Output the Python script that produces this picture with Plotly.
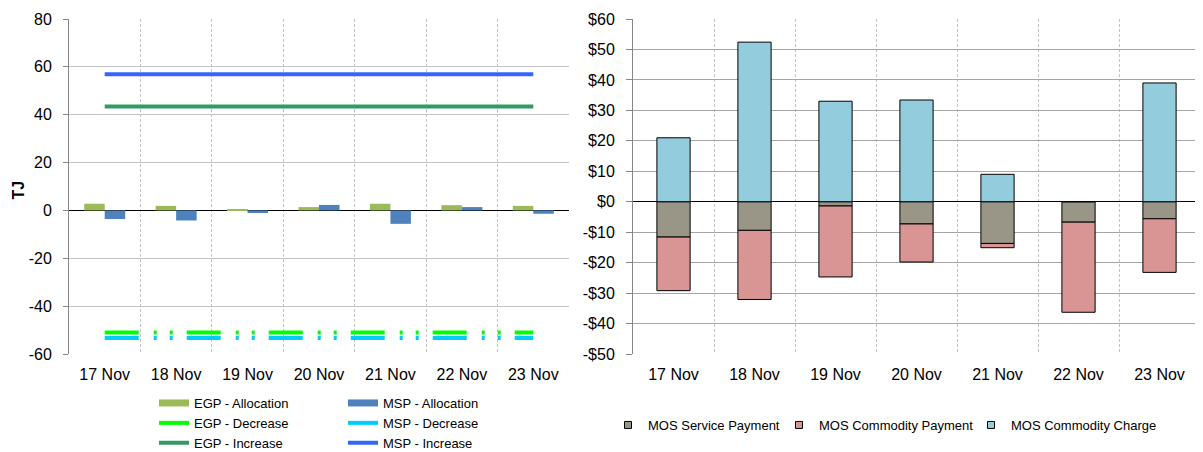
import plotly.graph_objects as go

# The page body has an 8px default margin, so pixel positions are offset by 8.
WIN_W, WIN_H = 1203, 452
OFF = 8
W, H = WIN_W - OFF, WIN_H - OFF
FONT = "Liberation Sans, Arial, sans-serif"


def px_x(x):
    return (x - OFF) / W


def px_y(y):
    return 1 - (y - OFF) / H


# ---------------- data ----------------
dates = ["17 Nov", "18 Nov", "19 Nov", "20 Nov", "21 Nov", "22 Nov", "23 Nov"]

egp_allocation = [2.8, 1.9, 0.6, 1.4, 2.8, 2.2, 1.9]
msp_allocation = [-3.6, -4.2, -1.1, 2.3, -5.6, 1.4, -1.4]
egp_decrease = [-51.0, -51.0, -51.0, -51.0, -51.0, -51.0, -51.0]
msp_decrease = [-53.3, -53.3, -53.3, -53.3, -53.3, -53.3, -53.3]
egp_increase = [43.4, 43.4, 43.4, 43.4, 43.4, 43.4, 43.4]
msp_increase = [56.9, 56.9, 56.9, 56.9, 56.9, 56.9, 56.9]

mos_service_payment = [-11.6, -9.4, -1.4, -7.3, -13.7, -6.7, -5.6]
mos_commodity_payment = [-17.6, -22.7, -23.3, -12.5, -1.4, -29.6, -17.6]
mos_commodity_charge = [21.0, 52.4, 33.0, 33.4, 9.0, 0.0, 39.0]

tj_ticks = [-60, -40, -20, 0, 20, 40, 60, 80]
tj_labels = ["-60", "-40", "-20", "0", "20", "40", "60", "80"]
usd_ticks = [-50, -40, -30, -20, -10, 0, 10, 20, 30, 40, 50, 60]
usd_labels = ["-$50", "-$40", "-$30", "-$20", "-$10", "$0",
              "$10", "$20", "$30", "$40", "$50", "$60"]

# ---------------- styles ----------------
C_EGP_ALLOC = "#9BBB59"
C_MSP_ALLOC = "#4F81BD"
C_EGP_DEC = "#00FF00"
C_MSP_DEC = "#00CCFF"
C_EGP_INC = "#339966"
C_MSP_INC = "#3366FF"
C_SERVICE = "#9A9687"
C_PAYMENT = "#D99594"
C_CHARGE = "#93CDDD"
DASH = "34px,15px,3px,13px,3px,14px"

fig = go.Figure()

# left chart bars (grouped, drawn explicitly side by side)
fig.add_trace(go.Bar(x=dates, y=egp_allocation, base=0, width=0.287, offset=-0.287,
                     marker=dict(color=C_EGP_ALLOC, line=dict(width=0)),
                     showlegend=False, xaxis="x", yaxis="y", hoverinfo="y"))
fig.add_trace(go.Bar(x=dates, y=msp_allocation, base=0, width=0.287, offset=0,
                     marker=dict(color=C_MSP_ALLOC, line=dict(width=0)),
                     showlegend=False, xaxis="x", yaxis="y", hoverinfo="y"))

# left legend column 1
fig.add_trace(go.Scatter(x=[None], y=[None], mode="lines", name="EGP - Allocation",
                         line=dict(color=C_EGP_ALLOC, width=7), legend="legend",
                         xaxis="x", yaxis="y"))
fig.add_trace(go.Scatter(x=dates, y=egp_decrease, mode="lines", name="EGP - Decrease",
                         line=dict(color=C_EGP_DEC, width=4, dash=DASH), legend="legend",
                         xaxis="x", yaxis="y"))
fig.add_trace(go.Scatter(x=dates, y=egp_increase, mode="lines", name="EGP - Increase",
                         line=dict(color=C_EGP_INC, width=4), legend="legend",
                         xaxis="x", yaxis="y"))
# left legend column 2
fig.add_trace(go.Scatter(x=[None], y=[None], mode="lines", name="MSP - Allocation",
                         line=dict(color=C_MSP_ALLOC, width=7), legend="legend2",
                         xaxis="x", yaxis="y"))
fig.add_trace(go.Scatter(x=dates, y=msp_decrease, mode="lines", name="MSP - Decrease",
                         line=dict(color=C_MSP_DEC, width=4, dash=DASH), legend="legend2",
                         xaxis="x", yaxis="y"))
fig.add_trace(go.Scatter(x=dates, y=msp_increase, mode="lines", name="MSP - Increase",
                         line=dict(color=C_MSP_INC, width=4), legend="legend2",
                         xaxis="x", yaxis="y"))

# right chart stacked bars
for vals, col, nm, lg in [(mos_service_payment, C_SERVICE, "MOS Service Payment", "legend3"),
                          (mos_commodity_payment, C_PAYMENT, "MOS Commodity Payment", "legend4"),
                          (mos_commodity_charge, C_CHARGE, "MOS Commodity Charge", "legend5")]:
    fig.add_trace(go.Bar(x=dates, y=vals, name=nm, showlegend=False,
                         marker=dict(color=col, line=dict(color="#000000", width=1)),
                         xaxis="x2", yaxis="y2", hoverinfo="y"))
    fig.add_trace(go.Scatter(x=[None], y=[None], mode="markers", name=nm, legend=lg,
                             marker=dict(symbol="square", size=7, color=col,
                                         line=dict(color="#000000", width=1)),
                             xaxis="x2", yaxis="y2"))

ydom = [px_y(354), px_y(19)]
tickfont = dict(family=FONT, size=16, color="#000000")

xcommon = dict(type="category", categoryorder="array", categoryarray=dates,
               tickson="boundaries", showgrid=True, griddash="3px,2px", gridcolor="#C4C4C4",
               gridwidth=1, ticks="", showline=False, zeroline=False, tickangle=0,
               tickfont=tickfont, ticklabelstandoff=9, automargin=False,
               range=[-0.5, 6.5])

leg_common = dict(xref="container", yref="container", xanchor="left", yanchor="top",
                  orientation="v", traceorder="normal", bgcolor="rgba(0,0,0,0)",
                  borderwidth=0, tracegroupgap=0,
                  font=dict(family=FONT, size=13, color="#000000"))


def leg(text_x, row_y):
    # plotly places entry text 40px right of the legend origin, first row 15px below top
    return dict(x=px_x(text_x - 40), y=px_y(row_y - 15), **leg_common)


fig.update_layout(
    width=W, height=H,
    margin=dict(l=0, r=0, t=0, b=0, autoexpand=False),
    paper_bgcolor="#FFFFFF", plot_bgcolor="#FFFFFF",
    template="none",
    barmode="relative", bargap=0.59,
    font=dict(family=FONT, color="#000000"),
    xaxis=dict(domain=[px_x(69), px_x(569)], anchor="y", **xcommon),
    xaxis2=dict(domain=[px_x(633), min(1.0, px_x(1200))], anchor="y2", **xcommon),
    yaxis=dict(domain=ydom, anchor="x", range=[-60, 80], tickvals=tj_ticks, ticktext=tj_labels,
               showgrid=True, gridcolor="#C4C4C4", gridwidth=1,
               showline=True, linecolor="#868686", linewidth=1,
               ticks="outside", ticklen=5, tickcolor="#868686",
               zeroline=True, zerolinecolor="#000000", zerolinewidth=1,
               tickfont=tickfont, ticklabelstandoff=8, automargin=False),
    yaxis2=dict(domain=ydom, anchor="x2", range=[-50, 60], tickvals=usd_ticks, ticktext=usd_labels,
                showgrid=True, gridcolor="#A6A6A6", gridwidth=1,
                showline=True, linecolor="#868686", linewidth=1,
                ticks="outside", ticklen=6, tickcolor="#868686",
                zeroline=True, zerolinecolor="#000000", zerolinewidth=1,
                tickfont=tickfont, ticklabelstandoff=8, automargin=False),
    legend=leg(194, 403),
    legend2=leg(383, 403),
    legend3=leg(648, 425),
    legend4=leg(819, 425),
    legend5=leg(1011, 425),
    annotations=[dict(text="<b>TJ</b>", textangle=-90, showarrow=False,
                      xref="paper", yref="paper", x=px_x(17.5), y=px_y(190),
                      xanchor="center", yanchor="middle",
                      font=dict(family=FONT, size=16, color="#000000"))],
)

fig.write_html("out.html")
